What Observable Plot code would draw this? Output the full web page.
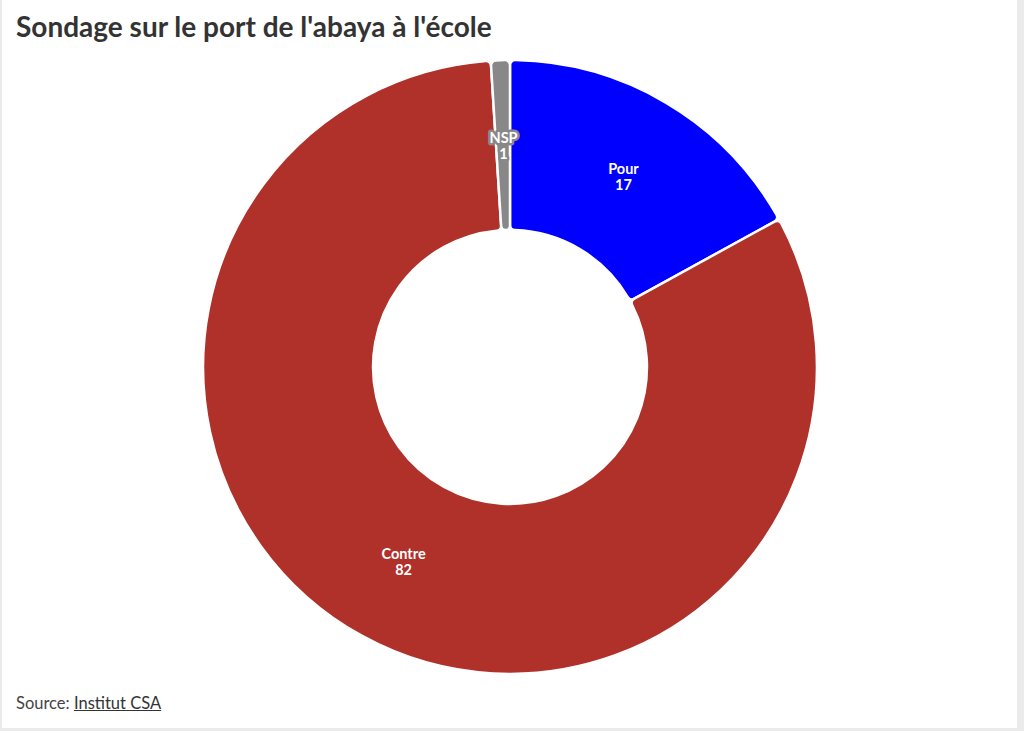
<!DOCTYPE html>
<html><head><meta charset="utf-8">
<script src="https://cdn.jsdelivr.net/npm/d3@7"></script>
<script src="https://cdn.jsdelivr.net/npm/@observablehq/plot@0.6"></script>
<style>
html,body{margin:0;padding:0;background:#ebebeb;width:1024px;height:731px;overflow:hidden;}
#card{position:absolute;left:2px;top:0;width:1015px;height:728px;background:#fff;font-family:Lato,sans-serif;}
#title{position:absolute;left:14px;top:9px;font-size:28px;font-weight:700;color:#333;white-space:nowrap;}
#chart{position:absolute;left:198px;top:57px;}
#source{position:absolute;left:14px;top:693px;font-size:16.5px;color:#444;}
#source a{color:#333;text-decoration:underline;}
</style></head>
<body>
<div id="card">
<div id="title">Sondage sur le port de l'abaya à l'école</div>
<div id="chart"></div>
<div id="source">Source: <a>Institut CSA</a></div>
</div>
<script>
const categories = ["Pour", "Contre", "NSP"];
const values = [17, 82, 1];
const colors = ["#0000ff", "#b0302a", "#888888"];

const rows = categories.map((c, i) => ({category: c, value: values[i]}));
const pie = d3.pie().sort(null).value(d => d.value)(rows);
const innerRatio = 137 / 307;
const midR = (1 + innerRatio) / 2;
const labels = pie.map(p => {
  const a = (p.startAngle + p.endAngle) / 2;
  return {category: p.data.category, value: p.data.value, x: midR * Math.sin(a), y: midR * Math.cos(a)};
});

function arcsMark(data) {
  return (index, scales, values, dimensions) => {
    const cx = scales.x(0), cy = scales.y(0);
    const R = scales.x(1) - scales.x(0);
    const arc = d3.arc().innerRadius(R * innerRatio).outerRadius(R).cornerRadius(5);
    const g = d3.create("svg:g").attr("transform", `translate(${cx},${cy})`);
    g.selectAll("path").data(data).join("path")
      .attr("d", arc)
      .attr("fill", d => scales.color(d.data.category))
      .attr("stroke", "#fff").attr("stroke-width", 2.5).attr("stroke-linejoin", "round");
    return g.node();
  };
}

const plot = Plot.plot({
  width: 620, height: 620,
  margin: 0,
  x: {domain: [-1.01, 1.01], axis: null},
  y: {domain: [-1.01, 1.01], axis: null},
  color: {domain: categories, range: colors},
  style: {fontFamily: "Lato, sans-serif", background: "transparent"},
  marks: [
    arcsMark(pie),
    Plot.text(labels, {
      x: "x", y: "y",
      text: d => `${d.category}\n${d.value}`,
      fill: "#fff", stroke: "category", strokeWidth: 5, strokeLinejoin: "round",
      fontSize: 14.5, fontWeight: 700, lineHeight: 1.1
    })
  ]
});
document.getElementById("chart").appendChild(plot);
</script>
</body></html>
